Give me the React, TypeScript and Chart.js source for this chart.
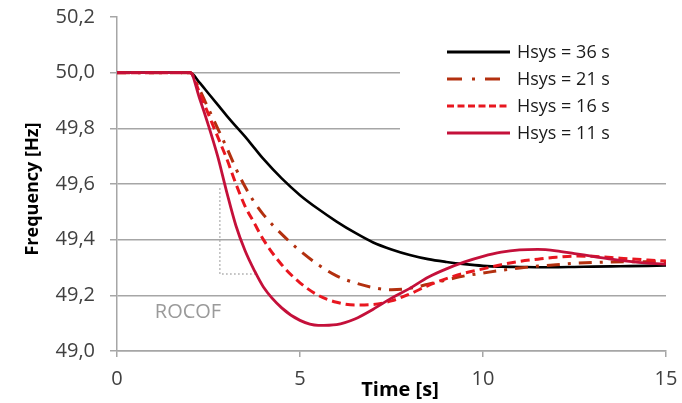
import React, { useEffect, useRef } from 'react';
import { Chart, registerables } from 'chart.js';

Chart.register(...registerables);

const timeS = [0, 2, 2.25, 2.5, 2.75, 3, 3.25, 3.5, 3.75, 4, 4.5, 5, 5.5, 6, 6.5, 7, 7.5, 8, 8.5, 9, 9.5, 10, 10.5, 11, 11.5, 12, 12.5, 13, 13.5, 14, 14.5, 15];

const hsys36 = [50, 50, 49.965, 49.925, 49.885, 49.845, 49.807, 49.77, 49.73, 49.69, 49.62, 49.56, 49.51, 49.465, 49.425, 49.39, 49.365, 49.345, 49.33, 49.32, 49.312, 49.306, 49.303, 49.302, 49.301, 49.301, 49.302, 49.303, 49.304, 49.305, 49.306, 49.307];
const hsys21 = [50, 50, 49.94, 49.87, 49.8, 49.73, 49.655, 49.59, 49.535, 49.49, 49.42, 49.36, 49.31, 49.27, 49.245, 49.228, 49.22, 49.225, 49.24, 49.255, 49.27, 49.28, 49.29, 49.298, 49.305, 49.31, 49.315, 49.318, 49.32, 49.321, 49.321, 49.32];
const hsys16 = [50, 50, 49.93, 49.85, 49.77, 49.69, 49.6, 49.52, 49.46, 49.4, 49.31, 49.245, 49.2, 49.175, 49.165, 49.167, 49.18, 49.205, 49.235, 49.26, 49.28, 49.295, 49.31, 49.322, 49.33, 49.337, 49.341, 49.34, 49.336, 49.331, 49.327, 49.323];
const hsys11 = [50, 50, 49.91, 49.81, 49.7, 49.57, 49.45, 49.36, 49.29, 49.23, 49.155, 49.11, 49.092, 49.095, 49.115, 49.15, 49.19, 49.225, 49.265, 49.295, 49.32, 49.34, 49.355, 49.363, 49.365, 49.36, 49.35, 49.34, 49.33, 49.322, 49.316, 49.312];

const rocofT = [2.81, 2.81, 3.85];
const rocofF = [49.585, 49.277, 49.277];

const seriesLabels = ['Hsys = 36 s', 'Hsys = 21 s', 'Hsys = 16 s', 'Hsys = 11 s'];
const yTickValues = [49.0, 49.2, 49.4, 49.6, 49.8, 50.0, 50.2];
const xTickValues = [0, 5, 10, 15];

const COLORS = ['#000000', '#b3300f', '#e8161f', '#c4103a'];
const DASHES: number[][] = [[], [13, 8, 3, 8], [9, 5], []];
const WIDTHS = [2.6, 3, 3, 2.8];

const toPts = (xs: number[], ys: number[]) => xs.map((x, i) => ({ x, y: ys[i] }));

const FONT = '"Open Sans", "DejaVu Sans", sans-serif';

const overlay = {
  id: 'overlay',
  beforeDatasetsDraw(chart: any) {
    const ctx = chart.ctx;
    ctx.save();
    ctx.fillStyle = '#ffffff';
    ctx.fillRect(400, 38, 275, 112);
    ctx.restore();
  },
  afterDraw(chart: any) {
    const ctx = chart.ctx;
    const xs = chart.scales.x;
    const ys = chart.scales.y;
    ctx.save();
    const rows = [52, 79, 106, 133];
    const legendDash: number[][] = [[], [15, 10, 3, 10], [7, 3.5], []];
    seriesLabels.forEach((lab, i) => {
      ctx.beginPath();
      ctx.setLineDash(legendDash[i]);
      ctx.strokeStyle = COLORS[i];
      ctx.lineWidth = 3;
      ctx.moveTo(447, rows[i]);
      ctx.lineTo(510, rows[i]);
      ctx.stroke();
      ctx.setLineDash([]);
      ctx.fillStyle = '#1a1a1a';
      ctx.font = `18px ${FONT}`;
      ctx.textAlign = 'left';
      ctx.textBaseline = 'middle';
      ctx.fillText(lab, 517, rows[i] + 1);
    });
    ctx.fillStyle = '#9a9a9a';
    ctx.font = `20px ${FONT}`;
    ctx.textAlign = 'center';
    ctx.textBaseline = 'middle';
    ctx.fillText('ROCOF', xs.getPixelForValue(1.94), ys.getPixelForValue(49.14));
    ctx.fillStyle = '#000000';
    ctx.font = `bold 20px ${FONT}`;
    ctx.fillText('Time [s]', 400, 390);
    ctx.translate(33, 189);
    ctx.rotate(-Math.PI / 2);
    ctx.font = `bold 18px ${FONT}`;
    ctx.fillText('Frequency [Hz]', 0, 0);
    ctx.restore();
  },
};

export default function App() {
  const ref = useRef<HTMLCanvasElement>(null);
  useEffect(() => {
    if (!ref.current) return;
    const mk = (i: number, data: number[], order: number) => ({
      label: seriesLabels[i],
      data: toPts(timeS, data),
      borderColor: COLORS[i],
      borderWidth: WIDTHS[i],
      borderDash: DASHES[i],
      pointRadius: 0,
      fill: false,
      cubicInterpolationMode: 'monotone' as const,
      order,
    });
    const chart = new Chart(ref.current, {
      type: 'line',
      data: {
        datasets: [
          mk(0, hsys36, 3),
          mk(1, hsys21, 2),
          mk(2, hsys16, 1),
          mk(3, hsys11, 0),
          {
            label: 'ROCOF',
            data: toPts(rocofT, rocofF),
            borderColor: '#a8a8a8',
            borderWidth: 1.5,
            borderDash: [1.5, 2.5],
            pointRadius: 0,
            fill: false,
            tension: 0,
            order: 4,
          } as any,
        ],
      },
      options: {
        animation: false,
        responsive: true,
        maintainAspectRatio: false,
        layout: { padding: { top: 17, right: 16, left: 0, bottom: 0 } },
        plugins: { legend: { display: false }, tooltip: { enabled: false } },
        scales: {
          x: {
            type: 'linear',
            min: 0,
            max: 15,
            afterBuildTicks: (s: any) => { s.ticks = xTickValues.map((v) => ({ value: v })); },
            afterFit: (s: any) => { s.height = 52; s.paddingLeft = 0; s.paddingRight = 0; },
            grid: { drawOnChartArea: false, drawTicks: true, tickLength: 6, color: '#a6a6a6', lineWidth: 1.5 },
            border: { color: '#a6a6a6', width: 1.5 },
            ticks: { color: '#404040', font: { family: FONT, size: 20 }, padding: 10, maxRotation: 0, callback: (v: any) => String(v) },
          },
          y: {
            type: 'linear',
            min: 49.0,
            max: 50.2,
            afterBuildTicks: (s: any) => { s.ticks = yTickValues.map((v) => ({ value: v })); },
            afterFit: (s: any) => { s.width = 117; s.paddingTop = 0; s.paddingBottom = 0; },
            grid: {
              color: (c: any) => (c.tick && Math.abs(c.tick.value - 50.2) < 1e-6 ? 'rgba(0,0,0,0)' : '#a6a6a6'),
              tickColor: '#a6a6a6',
              lineWidth: 1.5,
              tickLength: 7,
            },
            border: { color: '#a6a6a6', width: 1.5 },
            ticks: {
              color: '#404040',
              font: { family: FONT, size: 20 },
              padding: 15,
              callback: (v: any) => Number(v).toFixed(1).replace('.', ','),
            },
          },
        },
      },
      plugins: [overlay],
    });
    return () => chart.destroy();
  }, []);
  return (
    <div style={{ position: 'fixed', left: 0, top: 0, width: 682, height: 403, background: '#fff' }}>
      <canvas ref={ref} />
    </div>
  );
}
